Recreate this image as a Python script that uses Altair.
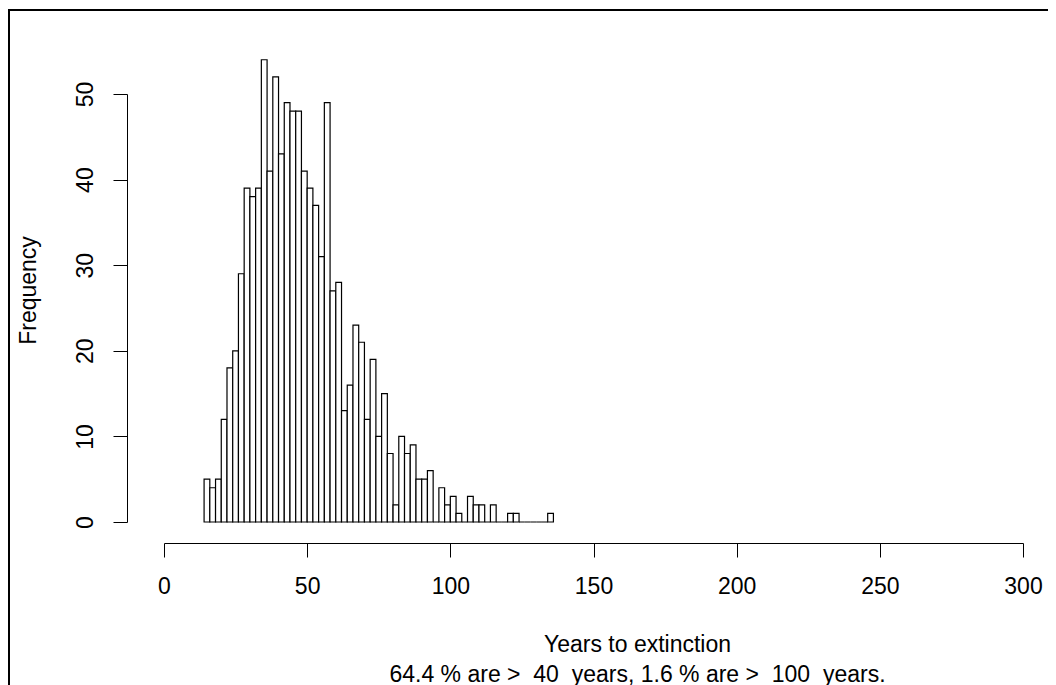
import altair as alt
import pandas as pd

# Histogram of years to extinction (1000 simulations, 2-year bins from 14 to 136)
bin_starts = list(range(14, 136, 2))
counts = [5, 4, 5, 12, 18, 20, 29, 39, 38, 39,
          54, 41, 52, 43, 49, 48, 48, 41, 39, 37,
          31, 49, 27, 28, 13, 16, 23, 21, 12, 19,
          10, 15, 8, 2, 10, 8, 9, 5, 5, 6,
          0, 4, 2, 3, 1, 0, 3, 2, 2, 0,
          2, 0, 0, 1, 1, 0, 0, 0, 0, 0,
          1]
x_ticks = [0, 50, 100, 150, 200, 250, 300]
y_ticks = [0, 10, 20, 30, 40, 50]
x_title = ["Years to extinction",
           "64.4 % are >\u00a0 40\u00a0 years, 1.6 % are >\u00a0 100\u00a0 years."]
y_title = "Frequency"

df = pd.DataFrame({
    "start": bin_starts,
    "end": [s + 2 for s in bin_starts],
    "count": counts,
})

FONT = "Liberation Sans"

bars = alt.Chart(df).mark_bar(
    fill="white", stroke="black", strokeWidth=1.2, clip=False
).encode(
    x=alt.X("start:Q",
            scale=alt.Scale(domain=[0, 300], nice=False, zero=False),
            axis=alt.Axis(
                values=x_ticks, offset=21, tickSize=14, grid=False,
                labelFontSize=23, labelFont=FONT, labelColor="black",
                labelBaseline="top", labelPadding=18, labelAngle=0,
                labelFlush=False, labelOverlap=False,
                domainColor="black", tickColor="black", domainWidth=1, tickWidth=1,
                title=x_title, titleFont=FONT, titleFontSize=23,
                titleFontWeight="normal", titleColor="black",
                titleX=473, titleY=108, titleAlign="center",
                titleBaseline="alphabetic", titleLineHeight=30,
            )),
    x2="end:Q",
    y=alt.Y("count:Q",
            scale=alt.Scale(domain=[0, 50], nice=False),
            axis=alt.Axis(
                values=y_ticks, offset=37, tickSize=14, grid=False,
                labelFontSize=23, labelFont=FONT, labelColor="black",
                labelAngle=270, labelAlign="center", labelBaseline="alphabetic",
                labelPadding=21, labelFlush=False, labelOverlap=False,
                domainColor="black", tickColor="black", domainWidth=1, tickWidth=1,
                title=y_title, titleFont=FONT, titleFontSize=23,
                titleFontWeight="normal", titleColor="black",
                titleAngle=270, titleX=-92, titleY=196, titleAlign="center",
                titleBaseline="alphabetic",
            )),
    y2=alt.datum(0),
)

frame_src = pd.DataFrame({"k": [0]})
left_line = alt.Chart(frame_src).mark_rule(color="black", strokeWidth=2, clip=False).encode(
    x=alt.value(-155), y=alt.value(-85), y2=alt.value(600)
)
top_line = alt.Chart(frame_src).mark_rule(color="black", strokeWidth=2, clip=False).encode(
    x=alt.value(-156), x2=alt.value(900), y=alt.value(-84)
)

chart = alt.layer(bars, left_line, top_line).properties(
    width=859, height=428,
    autosize=alt.AutoSizeParams(type="none"),
    padding={"left": 156, "top": 86, "right": 25, "bottom": 163},
    background="white",
).configure_view(stroke=None)

chart.save("out.html", embed_options={"renderer": "svg", "actions": False})
